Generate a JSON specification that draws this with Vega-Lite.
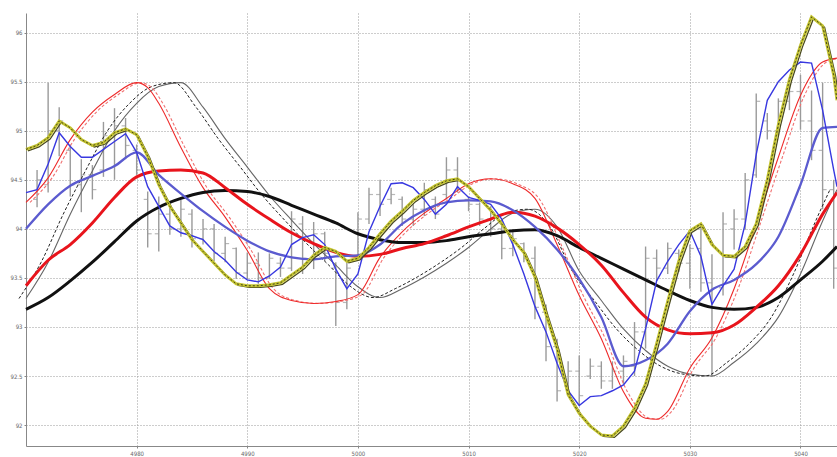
{
  "$schema": "https://vega.github.io/schema/vega-lite/v6.json",
  "width": 811,
  "height": 433,
  "autosize": {"type": "none"},
  "padding": {"left": 26, "top": 13, "right": 0, "bottom": 11},
  "background": "white",
  "config": {
    "view": {"stroke": null},
    "font": "Liberation Sans Narrow, DejaVu Sans Condensed, sans-serif",
    "axis": {
      "grid": true,
      "gridDash": [1, 2],
      "gridColor": "#9a9a9a",
      "gridWidth": 1,
      "domainColor": "#888",
      "tickColor": "#888",
      "tickSize": 2,
      "labelColor": "#666",
      "labelFontSize": 6,
      "title": null
    }
  },
  "datasets": {
    "bars": [
      {"t":4971,"hi":94.60,"lo":94.22,"o":94.30,"c":94.50},
      {"t":4972,"hi":95.49,"lo":94.37,"o":94.45,"c":95.00},
      {"t":4973,"hi":95.24,"lo":94.74,"o":95.00,"c":95.10},
      {"t":4974,"hi":94.86,"lo":94.33,"o":94.80,"c":94.45},
      {"t":4975,"hi":94.71,"lo":94.17,"o":94.45,"c":94.55},
      {"t":4976,"hi":94.65,"lo":94.30,"o":94.55,"c":94.40},
      {"t":4977,"hi":95.09,"lo":94.53,"o":94.60,"c":94.95},
      {"t":4978,"hi":95.23,"lo":94.50,"o":94.95,"c":95.05},
      {"t":4979,"hi":95.13,"lo":94.71,"o":95.05,"c":94.85},
      {"t":4980,"hi":94.86,"lo":94.55,"o":94.80,"c":94.60},
      {"t":4981,"hi":94.38,"lo":93.81,"o":94.30,"c":93.95},
      {"t":4982,"hi":94.33,"lo":93.77,"o":93.95,"c":94.15},
      {"t":4983,"hi":94.22,"lo":93.94,"o":94.15,"c":94.00},
      {"t":4984,"hi":94.30,"lo":93.92,"o":94.00,"c":94.20},
      {"t":4985,"hi":94.20,"lo":93.81,"o":94.15,"c":93.90},
      {"t":4986,"hi":94.10,"lo":93.84,"o":93.90,"c":94.00},
      {"t":4987,"hi":94.05,"lo":93.67,"o":94.00,"c":93.75},
      {"t":4988,"hi":93.92,"lo":93.66,"o":93.75,"c":93.85},
      {"t":4989,"hi":93.81,"lo":93.49,"o":93.80,"c":93.55},
      {"t":4990,"hi":93.76,"lo":93.49,"o":93.55,"c":93.65},
      {"t":4991,"hi":93.76,"lo":93.44,"o":93.65,"c":93.50},
      {"t":4992,"hi":93.75,"lo":93.49,"o":93.50,"c":93.70},
      {"t":4993,"hi":93.71,"lo":93.51,"o":93.65,"c":93.60},
      {"t":4994,"hi":94.18,"lo":93.57,"o":93.60,"c":94.10},
      {"t":4995,"hi":94.13,"lo":93.54,"o":94.05,"c":93.70},
      {"t":4996,"hi":94.07,"lo":93.59,"o":93.70,"c":93.95},
      {"t":4997,"hi":93.97,"lo":93.67,"o":93.95,"c":93.75},
      {"t":4998,"hi":93.66,"lo":93.01,"o":93.60,"c":93.25},
      {"t":4999,"hi":93.66,"lo":93.18,"o":93.25,"c":93.60},
      {"t":5000,"hi":94.17,"lo":93.69,"o":93.70,"c":94.10},
      {"t":5001,"hi":94.42,"lo":94.05,"o":94.10,"c":94.35},
      {"t":5002,"hi":94.50,"lo":94.13,"o":94.35,"c":94.25},
      {"t":5003,"hi":94.42,"lo":94.25,"o":94.30,"c":94.35},
      {"t":5004,"hi":94.33,"lo":94.03,"o":94.30,"c":94.10},
      {"t":5005,"hi":94.25,"lo":94.03,"o":94.10,"c":94.20},
      {"t":5006,"hi":94.47,"lo":94.13,"o":94.20,"c":94.40},
      {"t":5007,"hi":94.33,"lo":94.10,"o":94.30,"c":94.15},
      {"t":5008,"hi":94.73,"lo":94.30,"o":94.35,"c":94.60},
      {"t":5009,"hi":94.73,"lo":94.37,"o":94.60,"c":94.40},
      {"t":5010,"hi":94.33,"lo":94.18,"o":94.30,"c":94.25},
      {"t":5011,"hi":94.27,"lo":94.03,"o":94.25,"c":94.10},
      {"t":5012,"hi":94.23,"lo":93.92,"o":94.10,"c":94.00},
      {"t":5013,"hi":94.07,"lo":93.69,"o":94.00,"c":93.80},
      {"t":5014,"hi":93.99,"lo":93.72,"o":93.80,"c":93.90},
      {"t":5015,"hi":93.86,"lo":93.66,"o":93.85,"c":93.70},
      {"t":5016,"hi":93.82,"lo":93.08,"o":93.70,"c":93.20},
      {"t":5017,"hi":93.23,"lo":92.65,"o":93.15,"c":92.80},
      {"t":5018,"hi":92.88,"lo":92.24,"o":92.80,"c":92.35},
      {"t":5019,"hi":92.65,"lo":92.32,"o":92.40,"c":92.55},
      {"t":5020,"hi":92.71,"lo":92.20,"o":92.55,"c":92.30},
      {"t":5021,"hi":92.68,"lo":92.47,"o":92.50,"c":92.60},
      {"t":5022,"hi":92.65,"lo":92.37,"o":92.60,"c":92.45},
      {"t":5023,"hi":92.65,"lo":92.37,"o":92.45,"c":92.55},
      {"t":5024,"hi":92.71,"lo":92.42,"o":92.55,"c":92.65},
      {"t":5025,"hi":93.05,"lo":92.50,"o":92.60,"c":92.95},
      {"t":5026,"hi":93.82,"lo":92.78,"o":92.95,"c":93.70},
      {"t":5027,"hi":93.79,"lo":93.47,"o":93.70,"c":93.60},
      {"t":5028,"hi":93.86,"lo":93.54,"o":93.60,"c":93.80},
      {"t":5029,"hi":93.79,"lo":93.56,"o":93.75,"c":93.65},
      {"t":5030,"hi":93.84,"lo":93.39,"o":93.65,"c":93.80},
      {"t":5031,"hi":94.02,"lo":93.36,"o":93.80,"c":93.45},
      {"t":5032,"hi":93.74,"lo":92.49,"o":93.45,"c":92.95},
      {"t":5033,"hi":94.17,"lo":93.32,"o":93.40,"c":94.05},
      {"t":5034,"hi":94.20,"lo":93.79,"o":94.00,"c":94.10},
      {"t":5035,"hi":94.57,"lo":93.99,"o":94.10,"c":94.50},
      {"t":5036,"hi":95.38,"lo":94.52,"o":94.55,"c":95.30},
      {"t":5037,"hi":95.18,"lo":94.91,"o":95.10,"c":95.00},
      {"t":5038,"hi":95.33,"lo":94.96,"o":95.00,"c":95.30},
      {"t":5039,"hi":95.49,"lo":95.21,"o":95.30,"c":95.40},
      {"t":5040,"hi":95.57,"lo":95.01,"o":95.40,"c":95.10},
      {"t":5041,"hi":95.41,"lo":94.70,"o":95.10,"c":94.80},
      {"t":5042,"hi":95.49,"lo":94.20,"o":94.80,"c":94.40},
      {"t":5043,"hi":94.50,"lo":93.39,"o":94.40,"c":93.60}
    ],
    "lines": [
      {"s":"kthick","t":4970,"v":93.18},{"s":"kthick","t":4972,"v":93.30},{"s":"kthick","t":4974,"v":93.47},{"s":"kthick","t":4976,"v":93.66},{"s":"kthick","t":4978,"v":93.87},{"s":"kthick","t":4980,"v":94.08},{"s":"kthick","t":4982,"v":94.22},{"s":"kthick","t":4984,"v":94.31},{"s":"kthick","t":4986,"v":94.37},{"s":"kthick","t":4988,"v":94.39},{"s":"kthick","t":4990,"v":94.38},{"s":"kthick","t":4992,"v":94.33},{"s":"kthick","t":4994,"v":94.24},{"s":"kthick","t":4996,"v":94.15},{"s":"kthick","t":4998,"v":94.06},{"s":"kthick","t":5000,"v":93.95},{"s":"kthick","t":5002,"v":93.89},{"s":"kthick","t":5004,"v":93.86},{"s":"kthick","t":5006,"v":93.86},{"s":"kthick","t":5008,"v":93.88},{"s":"kthick","t":5010,"v":93.92},{"s":"kthick","t":5012,"v":93.95},{"s":"kthick","t":5014,"v":93.98},{"s":"kthick","t":5016,"v":93.99},{"s":"kthick","t":5018,"v":93.93},{"s":"kthick","t":5020,"v":93.81},{"s":"kthick","t":5022,"v":93.70},{"s":"kthick","t":5024,"v":93.59},{"s":"kthick","t":5026,"v":93.48},{"s":"kthick","t":5028,"v":93.37},{"s":"kthick","t":5030,"v":93.27},{"s":"kthick","t":5032,"v":93.20},{"s":"kthick","t":5034,"v":93.18},{"s":"kthick","t":5036,"v":93.20},{"s":"kthick","t":5038,"v":93.30},{"s":"kthick","t":5040,"v":93.48},{"s":"kthick","t":5042,"v":93.67},{"s":"kthick","t":5043.3,"v":93.82},

      {"s":"rthick","t":4970,"v":93.42},{"s":"rthick","t":4972,"v":93.68},{"s":"rthick","t":4974,"v":93.84},{"s":"rthick","t":4976,"v":94.06},{"s":"rthick","t":4978,"v":94.32},{"s":"rthick","t":4980,"v":94.53},{"s":"rthick","t":4982,"v":94.59},{"s":"rthick","t":4984,"v":94.60},{"s":"rthick","t":4986,"v":94.57},{"s":"rthick","t":4988,"v":94.42},{"s":"rthick","t":4990,"v":94.25},{"s":"rthick","t":4992,"v":94.10},{"s":"rthick","t":4994,"v":93.96},{"s":"rthick","t":4996,"v":93.85},{"s":"rthick","t":4998,"v":93.76},{"s":"rthick","t":5000,"v":93.72},{"s":"rthick","t":5002,"v":93.74},{"s":"rthick","t":5004,"v":93.80},{"s":"rthick","t":5006,"v":93.85},{"s":"rthick","t":5008,"v":93.93},{"s":"rthick","t":5010,"v":94.02},{"s":"rthick","t":5012,"v":94.10},{"s":"rthick","t":5014,"v":94.17},{"s":"rthick","t":5016,"v":94.13},{"s":"rthick","t":5018,"v":94.01},{"s":"rthick","t":5020,"v":93.84},{"s":"rthick","t":5022,"v":93.63},{"s":"rthick","t":5024,"v":93.35},{"s":"rthick","t":5026,"v":93.10},{"s":"rthick","t":5028,"v":92.97},{"s":"rthick","t":5030,"v":92.93},{"s":"rthick","t":5032,"v":92.94},{"s":"rthick","t":5034,"v":93.02},{"s":"rthick","t":5036,"v":93.20},{"s":"rthick","t":5038,"v":93.42},{"s":"rthick","t":5040,"v":93.74},{"s":"rthick","t":5042,"v":94.15},{"s":"rthick","t":5043.3,"v":94.37},

      {"s":"bthick","t":4970,"v":94.00},{"s":"bthick","t":4972,"v":94.25},{"s":"bthick","t":4974,"v":94.44},{"s":"bthick","t":4976,"v":94.54},{"s":"bthick","t":4978,"v":94.64},{"s":"bthick","t":4980,"v":94.78},{"s":"bthick","t":4982,"v":94.55},{"s":"bthick","t":4984,"v":94.36},{"s":"bthick","t":4986,"v":94.18},{"s":"bthick","t":4988,"v":94.02},{"s":"bthick","t":4990,"v":93.88},{"s":"bthick","t":4992,"v":93.77},{"s":"bthick","t":4994,"v":93.71},{"s":"bthick","t":4996,"v":93.69},{"s":"bthick","t":4998,"v":93.72},{"s":"bthick","t":5000,"v":93.73},{"s":"bthick","t":5002,"v":93.84},{"s":"bthick","t":5004,"v":94.05},{"s":"bthick","t":5006,"v":94.19},{"s":"bthick","t":5008,"v":94.27},{"s":"bthick","t":5010,"v":94.29},{"s":"bthick","t":5012,"v":94.28},{"s":"bthick","t":5014,"v":94.19},{"s":"bthick","t":5016,"v":94.02},{"s":"bthick","t":5018,"v":93.79},{"s":"bthick","t":5020,"v":93.49},{"s":"bthick","t":5022,"v":93.10},{"s":"bthick","t":5024,"v":92.60},{"s":"bthick","t":5026,"v":92.66},{"s":"bthick","t":5028,"v":92.83},{"s":"bthick","t":5030,"v":93.16},{"s":"bthick","t":5032,"v":93.38},{"s":"bthick","t":5034,"v":93.48},{"s":"bthick","t":5036,"v":93.64},{"s":"bthick","t":5038,"v":93.92},{"s":"bthick","t":5040,"v":94.45},{"s":"bthick","t":5042,"v":95.03},{"s":"bthick","t":5043.3,"v":95.04},

      {"s":"bthin","t":4970,"v":94.37},{"s":"bthin","t":4971,"v":94.40},{"s":"bthin","t":4972,"v":94.66},{"s":"bthin","t":4973,"v":94.98},{"s":"bthin","t":4974,"v":94.84},{"s":"bthin","t":4975,"v":94.73},{"s":"bthin","t":4976,"v":94.73},{"s":"bthin","t":4977,"v":94.81},{"s":"bthin","t":4978,"v":94.89},{"s":"bthin","t":4979,"v":94.97},{"s":"bthin","t":4980,"v":94.78},{"s":"bthin","t":4981,"v":94.43},{"s":"bthin","t":4982,"v":94.23},{"s":"bthin","t":4983,"v":94.03},{"s":"bthin","t":4984,"v":93.96},{"s":"bthin","t":4985,"v":93.93},{"s":"bthin","t":4986,"v":93.89},{"s":"bthin","t":4987,"v":93.77},{"s":"bthin","t":4988,"v":93.68},{"s":"bthin","t":4989,"v":93.56},{"s":"bthin","t":4990,"v":93.48},{"s":"bthin","t":4991,"v":93.46},{"s":"bthin","t":4992,"v":93.52},{"s":"bthin","t":4993,"v":93.61},{"s":"bthin","t":4994,"v":93.84},{"s":"bthin","t":4995,"v":93.91},{"s":"bthin","t":4996,"v":93.94},{"s":"bthin","t":4997,"v":93.84},{"s":"bthin","t":4998,"v":93.59},{"s":"bthin","t":4999,"v":93.39},{"s":"bthin","t":5000,"v":93.54},{"s":"bthin","t":5001,"v":93.97},{"s":"bthin","t":5002,"v":94.23},{"s":"bthin","t":5003,"v":94.46},{"s":"bthin","t":5004,"v":94.47},{"s":"bthin","t":5005,"v":94.42},{"s":"bthin","t":5006,"v":94.30},{"s":"bthin","t":5007,"v":94.15},{"s":"bthin","t":5008,"v":94.25},{"s":"bthin","t":5009,"v":94.43},{"s":"bthin","t":5010,"v":94.32},{"s":"bthin","t":5011,"v":94.29},{"s":"bthin","t":5012,"v":94.25},{"s":"bthin","t":5013,"v":94.10},{"s":"bthin","t":5014,"v":93.84},{"s":"bthin","t":5015,"v":93.54},{"s":"bthin","t":5016,"v":93.21},{"s":"bthin","t":5017,"v":92.95},{"s":"bthin","t":5018,"v":92.63},{"s":"bthin","t":5019,"v":92.35},{"s":"bthin","t":5020,"v":92.20},{"s":"bthin","t":5021,"v":92.29},{"s":"bthin","t":5022,"v":92.30},{"s":"bthin","t":5023,"v":92.35},{"s":"bthin","t":5024,"v":92.41},{"s":"bthin","t":5025,"v":92.55},{"s":"bthin","t":5026,"v":92.98},{"s":"bthin","t":5027,"v":93.47},{"s":"bthin","t":5028,"v":93.67},{"s":"bthin","t":5029,"v":93.84},{"s":"bthin","t":5030,"v":93.98},{"s":"bthin","t":5031,"v":93.72},{"s":"bthin","t":5032,"v":93.23},{"s":"bthin","t":5033,"v":93.42},{"s":"bthin","t":5034,"v":93.59},{"s":"bthin","t":5035,"v":94.05},{"s":"bthin","t":5036,"v":94.76},{"s":"bthin","t":5037,"v":95.31},{"s":"bthin","t":5038,"v":95.50},{"s":"bthin","t":5039,"v":95.62},{"s":"bthin","t":5040,"v":95.70},{"s":"bthin","t":5041,"v":95.69},{"s":"bthin","t":5042,"v":95.21},{"s":"bthin","t":5043,"v":94.60},{"s":"bthin","t":5043.3,"v":94.43},

      {"s":"olive","t":4970,"v":94.81},{"s":"olive","t":4971,"v":94.85},{"s":"olive","t":4972,"v":94.93},{"s":"olive","t":4973,"v":95.10},{"s":"olive","t":4974,"v":95.03},{"s":"olive","t":4975,"v":94.91},{"s":"olive","t":4976,"v":94.85},{"s":"olive","t":4977,"v":94.88},{"s":"olive","t":4978,"v":94.98},{"s":"olive","t":4979,"v":95.02},{"s":"olive","t":4980,"v":94.96},{"s":"olive","t":4981,"v":94.74},{"s":"olive","t":4982,"v":94.45},{"s":"olive","t":4983,"v":94.23},{"s":"olive","t":4984,"v":94.06},{"s":"olive","t":4985,"v":93.89},{"s":"olive","t":4986,"v":93.77},{"s":"olive","t":4987,"v":93.65},{"s":"olive","t":4988,"v":93.53},{"s":"olive","t":4989,"v":93.44},{"s":"olive","t":4990,"v":93.42},{"s":"olive","t":4991,"v":93.42},{"s":"olive","t":4992,"v":93.43},{"s":"olive","t":4993,"v":93.45},{"s":"olive","t":4994,"v":93.53},{"s":"olive","t":4995,"v":93.61},{"s":"olive","t":4996,"v":93.73},{"s":"olive","t":4997,"v":93.81},{"s":"olive","t":4998,"v":93.77},{"s":"olive","t":4999,"v":93.67},{"s":"olive","t":5000,"v":93.70},{"s":"olive","t":5001,"v":93.81},{"s":"olive","t":5002,"v":93.95},{"s":"olive","t":5003,"v":94.08},{"s":"olive","t":5004,"v":94.18},{"s":"olive","t":5005,"v":94.29},{"s":"olive","t":5006,"v":94.37},{"s":"olive","t":5007,"v":94.44},{"s":"olive","t":5008,"v":94.49},{"s":"olive","t":5009,"v":94.51},{"s":"olive","t":5010,"v":94.43},{"s":"olive","t":5011,"v":94.31},{"s":"olive","t":5012,"v":94.19},{"s":"olive","t":5013,"v":94.05},{"s":"olive","t":5014,"v":93.89},{"s":"olive","t":5015,"v":93.76},{"s":"olive","t":5016,"v":93.51},{"s":"olive","t":5017,"v":93.13},{"s":"olive","t":5018,"v":92.78},{"s":"olive","t":5019,"v":92.31},{"s":"olive","t":5020,"v":92.12},{"s":"olive","t":5021,"v":91.99},{"s":"olive","t":5022,"v":91.90},{"s":"olive","t":5023,"v":91.89},{"s":"olive","t":5024,"v":91.99},{"s":"olive","t":5025,"v":92.17},{"s":"olive","t":5026,"v":92.42},{"s":"olive","t":5027,"v":92.83},{"s":"olive","t":5028,"v":93.26},{"s":"olive","t":5029,"v":93.67},{"s":"olive","t":5030,"v":93.98},{"s":"olive","t":5031,"v":94.05},{"s":"olive","t":5032,"v":93.84},{"s":"olive","t":5033,"v":93.73},{"s":"olive","t":5034,"v":93.72},{"s":"olive","t":5035,"v":93.82},{"s":"olive","t":5036,"v":94.05},{"s":"olive","t":5037,"v":94.50},{"s":"olive","t":5038,"v":95.06},{"s":"olive","t":5039,"v":95.52},{"s":"olive","t":5040,"v":95.87},{"s":"olive","t":5041,"v":96.16},{"s":"olive","t":5042,"v":96.07},{"s":"olive","t":5043,"v":95.57},{"s":"olive","t":5043.3,"v":95.31},

      {"s":"rthin","t":4970,"v":94.27},{"s":"rthin","t":4972,"v":94.52},{"s":"rthin","t":4974,"v":94.91},{"s":"rthin","t":4976,"v":95.19},{"s":"rthin","t":4978,"v":95.37},{"s":"rthin","t":4980,"v":95.49},{"s":"rthin","t":4981,"v":95.44},{"s":"rthin","t":4982,"v":95.28},{"s":"rthin","t":4984,"v":94.83},{"s":"rthin","t":4986,"v":94.42},{"s":"rthin","t":4988,"v":94.12},{"s":"rthin","t":4990,"v":93.78},{"s":"rthin","t":4992,"v":93.39},{"s":"rthin","t":4994,"v":93.27},{"s":"rthin","t":4996,"v":93.24},{"s":"rthin","t":4998,"v":93.26},{"s":"rthin","t":5000,"v":93.33},{"s":"rthin","t":5002,"v":93.71},{"s":"rthin","t":5004,"v":93.97},{"s":"rthin","t":5006,"v":94.16},{"s":"rthin","t":5008,"v":94.31},{"s":"rthin","t":5010,"v":94.46},{"s":"rthin","t":5012,"v":94.51},{"s":"rthin","t":5014,"v":94.46},{"s":"rthin","t":5016,"v":94.31},{"s":"rthin","t":5018,"v":93.84},{"s":"rthin","t":5020,"v":93.32},{"s":"rthin","t":5022,"v":92.88},{"s":"rthin","t":5024,"v":92.34},{"s":"rthin","t":5026,"v":92.07},{"s":"rthin","t":5027,"v":92.06},{"s":"rthin","t":5028,"v":92.14},{"s":"rthin","t":5030,"v":92.58},{"s":"rthin","t":5032,"v":92.89},{"s":"rthin","t":5034,"v":93.39},{"s":"rthin","t":5036,"v":94.05},{"s":"rthin","t":5038,"v":94.73},{"s":"rthin","t":5040,"v":95.36},{"s":"rthin","t":5042,"v":95.70},{"s":"rthin","t":5043.3,"v":95.74},

      {"s":"kthin","t":4970,"v":93.29},{"s":"kthin","t":4972,"v":93.66},{"s":"kthin","t":4974,"v":94.15},{"s":"kthin","t":4976,"v":94.59},{"s":"kthin","t":4978,"v":95.00},{"s":"kthin","t":4980,"v":95.28},{"s":"kthin","t":4982,"v":95.45},{"s":"kthin","t":4984,"v":95.49},{"s":"kthin","t":4986,"v":95.24},{"s":"kthin","t":4988,"v":94.92},{"s":"kthin","t":4990,"v":94.63},{"s":"kthin","t":4992,"v":94.34},{"s":"kthin","t":4994,"v":94.09},{"s":"kthin","t":4996,"v":93.85},{"s":"kthin","t":4998,"v":93.63},{"s":"kthin","t":5000,"v":93.41},{"s":"kthin","t":5002,"v":93.30},{"s":"kthin","t":5004,"v":93.39},{"s":"kthin","t":5006,"v":93.51},{"s":"kthin","t":5008,"v":93.65},{"s":"kthin","t":5010,"v":93.81},{"s":"kthin","t":5012,"v":94.00},{"s":"kthin","t":5014,"v":94.16},{"s":"kthin","t":5016,"v":94.20},{"s":"kthin","t":5018,"v":94.02},{"s":"kthin","t":5020,"v":93.57},{"s":"kthin","t":5022,"v":93.27},{"s":"kthin","t":5024,"v":92.98},{"s":"kthin","t":5026,"v":92.76},{"s":"kthin","t":5028,"v":92.60},{"s":"kthin","t":5030,"v":92.52},{"s":"kthin","t":5032,"v":92.50},{"s":"kthin","t":5034,"v":92.64},{"s":"kthin","t":5036,"v":92.83},{"s":"kthin","t":5038,"v":93.10},{"s":"kthin","t":5040,"v":93.54},{"s":"kthin","t":5042,"v":94.08},{"s":"kthin","t":5043.3,"v":94.40}
    ]
  },
  "encoding": {
    "x": {
      "field": "t", "type": "quantitative",
      "scale": {"domain": [4970, 5043.3], "nice": false, "zero": false},
      "axis": {"values": [4980, 4990, 5000, 5010, 5020, 5030, 5040], "format": "d", "labelPadding": 2}
    },
    "y": {
      "field": "v", "type": "quantitative",
      "scale": {"domain": [91.787, 96.2], "nice": false, "zero": false},
      "axis": {"values": [92, 92.5, 93, 93.5, 94, 94.5, 95, 95.5, 96], "format": "~g", "labelPadding": 2}
    }
  },
  "layer": [
    {
      "data": {"name": "bars"},
      "mark": {"type": "rule", "color": "#9a9a9a", "strokeWidth": 1.4},
      "encoding": {"y": {"field": "lo", "type": "quantitative"}, "y2": {"field": "hi"}}
    },
    {
      "data": {"name": "bars"},
      "mark": {"type": "tick", "orient": "horizontal", "color": "#9a9a9a", "size": 4, "thickness": 1.2, "xOffset": -2},
      "encoding": {"y": {"field": "o", "type": "quantitative"}}
    },
    {
      "data": {"name": "bars"},
      "mark": {"type": "tick", "orient": "horizontal", "color": "#9a9a9a", "size": 4, "thickness": 1.2, "xOffset": 2},
      "encoding": {"y": {"field": "c", "type": "quantitative"}}
    },
    {
      "data": {"name": "lines"},
      "transform": [{"filter": "datum.s === 'kthin'"}],
      "mark": {"type": "line", "color": "#666", "strokeWidth": 1.1, "interpolate": "monotone"}
    },
    {
      "data": {"name": "lines"},
      "transform": [{"filter": "datum.s === 'kthin'"}],
      "mark": {"type": "line", "color": "#222", "strokeWidth": 1, "strokeDash": [3, 2], "interpolate": "monotone", "xOffset": -7}
    },
    {
      "data": {"name": "lines"},
      "transform": [{"filter": "datum.s === 'rthin'"}],
      "mark": {"type": "line", "color": "#f07070", "strokeWidth": 1.1, "strokeDash": [3, 2], "interpolate": "monotone", "xOffset": 4}
    },
    {
      "data": {"name": "lines"},
      "transform": [{"filter": "datum.s === 'rthin'"}],
      "mark": {"type": "line", "color": "#ee2a2a", "strokeWidth": 1.1, "interpolate": "monotone"}
    },
    {
      "data": {"name": "lines"},
      "transform": [{"filter": "datum.s === 'kthick'"}],
      "mark": {"type": "line", "color": "#111", "strokeWidth": 3, "interpolate": "monotone"}
    },
    {
      "data": {"name": "lines"},
      "transform": [{"filter": "datum.s === 'rthick'"}],
      "mark": {"type": "line", "color": "#e8141c", "strokeWidth": 3, "interpolate": "monotone"}
    },
    {
      "data": {"name": "lines"},
      "transform": [{"filter": "datum.s === 'bthick'"}],
      "mark": {"type": "line", "color": "#5b5bcf", "strokeWidth": 2.3, "interpolate": "monotone"}
    },
    {
      "data": {"name": "lines"},
      "transform": [{"filter": "datum.s === 'bthin'"}],
      "mark": {"type": "line", "color": "#3838e0", "strokeWidth": 1.4}
    },
    {
      "data": {"name": "lines"},
      "transform": [{"filter": "datum.s === 'olive'"}],
      "mark": {"type": "line", "color": "#4a4a1e", "strokeWidth": 1.3, "xOffset": 2, "yOffset": 1.5}
    },
    {
      "data": {"name": "lines"},
      "transform": [{"filter": "datum.s === 'olive'"}],
      "mark": {"type": "line", "color": "#c4c430", "strokeWidth": 3}
    },
    {
      "data": {"name": "lines"},
      "transform": [{"filter": "datum.s === 'olive'"}],
      "mark": {"type": "line", "color": "#333318", "strokeWidth": 0.9, "strokeDash": [2, 2]}
    }
  ]
}
